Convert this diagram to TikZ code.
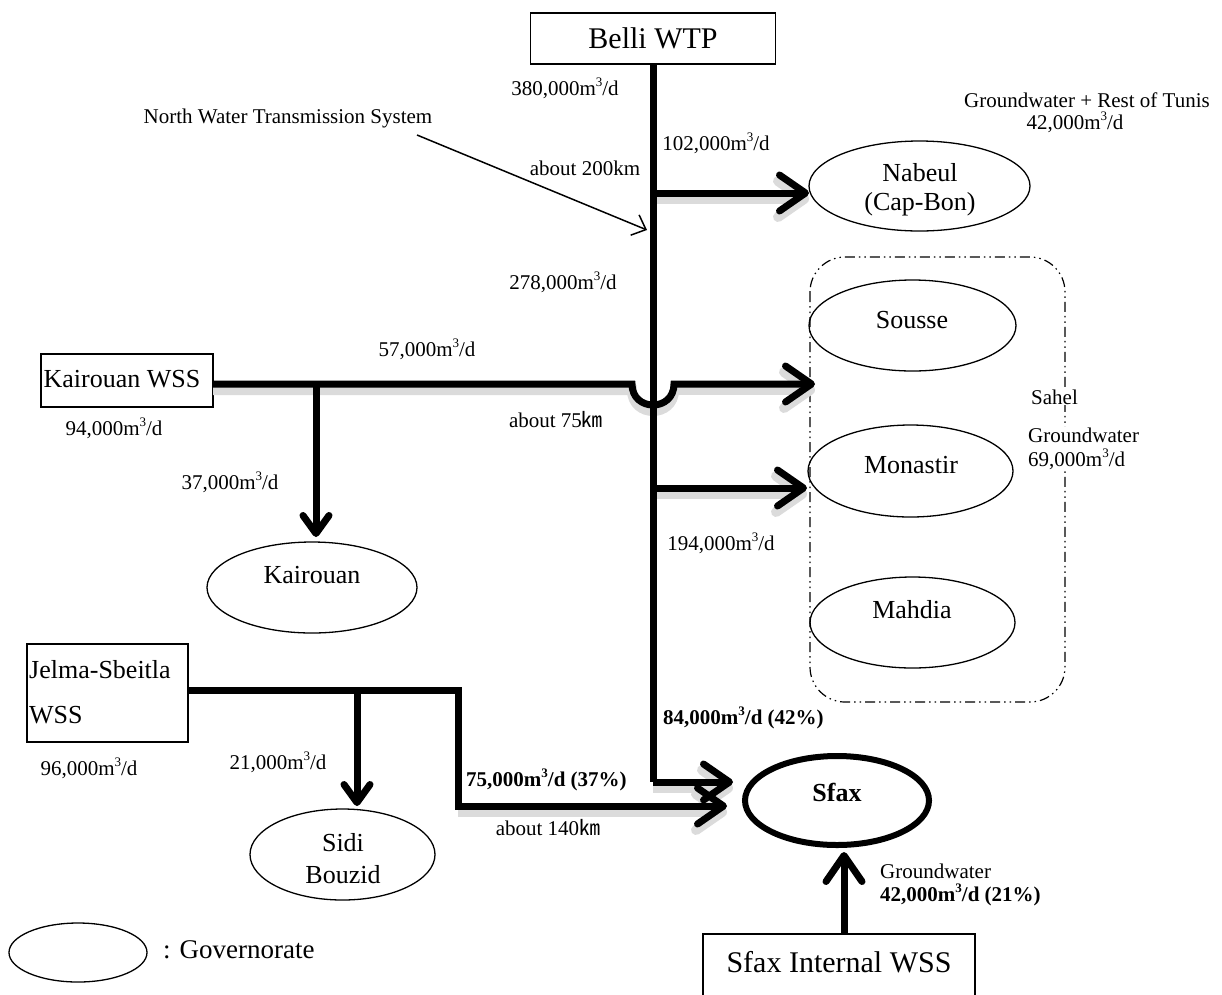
\documentclass[tikz,border=0pt]{standalone}
\usepackage{fontspec}
\setmainfont{Liberation Serif}
\newfontfamily\cjkfont{Noto Sans CJK JP}
\usetikzlibrary{arrows.meta,shapes.geometric}
\newcommand{\mcube}{m\raisebox{0.42em}{\fontsize{13}{13}\selectfont 3}/d}
\newcommand{\kmsym}{{\cjkfont ㎞}}
\newcommand{\fA}{\fontsize{21}{24}\selectfont}
\newcommand{\fB}{\fontsize{26}{29}\selectfont}
\newcommand{\fC}{\fontsize{30}{32}\selectfont}
\tikzset{
  box/.style={draw, line width=1.3pt, inner sep=0pt},
  gov/.style={draw, ellipse, line width=1.3pt, inner sep=0pt},
  lbl/.style={font=\fA, inner sep=0pt},
  pipe/.style={line width=7pt},
  tipbig/.style={-{Straight Barb[length=26pt,width=36pt,round]}},
  tipsmall/.style={-{Straight Barb[length=18pt,width=26pt,round]}},
  shade/.style={line width=10pt, draw=black!14, transform canvas={yshift=-6pt}},
  sahelbox/.style={line width=1.2pt, rounded corners=35pt,
     dash pattern=on 10pt off 4pt on 1.5pt off 4pt on 1.5pt off 4pt}
}
\begin{document}
\begin{tikzpicture}[x=1pt,y=-1pt]
\fill[white] (0,0) rectangle (1222,994);
\useasboundingbox (0,0) rectangle (1222,994);

% boxes
\node[box, minimum width=245pt, minimum height=51pt] (belli) at (653,38.5) {};
\node[font=\fC, inner sep=0pt] (bellit) at (653,38) {Belli WTP};
\node[box, minimum width=172pt, minimum height=53pt] (kws) at (127,380.5) {};
\node[font=\fB, inner sep=0pt] (kwst) at (122,379) {Kairouan WSS};
\node[box, minimum width=161pt, minimum height=98pt] (jws) at (107.5,693) {};
\node[font=\fB, inner sep=0pt, anchor=west] (jwst1) at (29,670) {Jelma-Sbeitla};
\node[font=\fB, inner sep=0pt, anchor=west] (jwst2) at (29,715) {WSS};
\node[box, minimum width=272pt, minimum height=96pt] (siw) at (839,982) {};
\node[font=\fC, inner sep=0pt] (siwt) at (839,962) {Sfax Internal WSS};

% Sahel group
\draw[sahelbox] (810,257) rectangle (1065,702);

% governorates
\node[gov, minimum width=221pt, minimum height=90pt] (nabeul) at (919.5,186) {};
\node[font=\fB, inner sep=0pt] (nabeult1) at (920,173) {Nabeul};
\node[font=\fB, inner sep=0pt] (nabeult2) at (920,204) {(Cap-Bon)};
\node[gov, minimum width=207pt, minimum height=91pt] (sousse) at (912.5,325.5) {};
\node[font=\fB, inner sep=0pt] (sousset) at (912,320) {Sousse};
\node[gov, minimum width=205pt, minimum height=92pt] (monastir) at (910.5,471) {};
\node[font=\fB, inner sep=0pt] (monastirt) at (911,465) {Monastir};
\node[gov, minimum width=205pt, minimum height=91pt] (mahdia) at (912.5,622.5) {};
\node[font=\fB, inner sep=0pt] (mahdiat) at (912,610) {Mahdia};
\node[gov, minimum width=210pt, minimum height=91pt] (kair) at (312,587.5) {};
\node[font=\fB, inner sep=0pt] (kairt) at (312,575) {Kairouan};
\node[gov, minimum width=185pt, minimum height=91pt] (sidi) at (342.5,854.5) {};
\node[font=\fB, inner sep=0pt] (sidit1) at (343,843) {Sidi};
\node[font=\fB, inner sep=0pt] (sidit2) at (343,875) {Bouzid};
\node[gov, line width=6pt, minimum width=184pt, minimum height=89pt] (sfax) at (837,800.5) {};
\node[font=\fB\bfseries, inner sep=0pt] (sfaxt) at (837,792) {Sfax};
\node[gov, minimum width=138pt, minimum height=59pt] (legend) at (78,952.5) {};
\node[font=\fontsize{27}{30}\selectfont, inner sep=0pt, anchor=west] (govl) at (163,950) {: Governorate};

% junction coordinates
\coordinate (top) at (653,64);
\coordinate (jn) at (653,193);
\coordinate (jx) at (653,384);
\coordinate (jm) at (653,488);
\coordinate (corner) at (653,782);
\coordinate (tipn) at (809,193);
\coordinate (kstart) at (213,384);
\coordinate (jl) at (632,384);
\coordinate (jr) at (674,384);
\coordinate (tips) at (815,384);
\coordinate (tipm) at (807,488);
\coordinate (tipf1) at (733,782);
\coordinate (kbr) at (316,384);
\coordinate (kbt) at (316,537);
\coordinate (jstart) at (188,690);
\coordinate (sbr) at (357,690);
\coordinate (sbt) at (357,806);
\coordinate (jc1) at (458,690);
\coordinate (jc2) at (458,806);
\coordinate (tipf2) at (727,806);
\coordinate (siwtop) at (844,934);
\coordinate (tipf3) at (844,852);
\coordinate (nwa) at (417,135);
\coordinate (nwb) at (647,230);

% shadows
\draw[shade, tipbig] (jn) -- (tipn);
\draw[shade] (kstart) -- (jl) .. controls (632,412) and (674,412) .. (jr);
\draw[shade, tipbig] (jr) -- (tips);
\draw[shade, tipbig] (jm) -- (tipm);
\draw[shade, tipbig] (corner) -- (tipf1);
\draw[shade, tipbig] (jc2) -- (tipf2);

% pipes
\draw[pipe] (top) -- (corner);
\draw[pipe, tipbig] (corner) -- (tipf1);
\draw[pipe, tipbig] (jn) -- (tipn);
\draw[pipe, tipbig] (kstart) -- (jl) .. controls (632,412) and (674,412) .. (jr) -- (tips);
\draw[pipe, tipbig] (jm) -- (tipm);
\draw[pipe, tipsmall] (kbr) -- (kbt);
\draw[pipe, tipbig, line join=miter] (jstart) -- (jc1) -- (jc2) -- (tipf2);
\draw[pipe, tipsmall] (sbr) -- (sbt);
\draw[pipe, tipbig] (siwtop) -- (tipf3);

% thin pointer
\draw[line width=1.5pt, -{Straight Barb[length=12pt,width=22pt]}] (nwa) -- (nwb);

% labels
\node[lbl] (l380) at (565,88) {380,000\mcube};
\node[lbl] (nwts) at (288,118) {North Water Transmission System};
\node[lbl] (l200) at (585,168) {about 200km};
\node[lbl] (l102) at (716,143) {102,000\mcube};
\node[lbl] (gwr) at (1087,100) {Groundwater + Rest of Tunis};
\node[lbl] (l42a) at (1075,122) {42,000\mcube};
\node[lbl] (l278) at (563,282) {278,000\mcube};
\node[lbl] (l57) at (427,349) {57,000\mcube};
\node[lbl] (l75) at (556,420) {about 75\kmsym};
\node[lbl] (l94) at (114,428) {94,000\mcube};
\node[lbl] (l37) at (230,482) {37,000\mcube};
\node[lbl] (l194) at (721,543) {194,000\mcube};
\node[lbl, fill=white, anchor=west, inner sep=1pt] (sahel) at (1030,397) {Sahel};
\node[lbl, fill=white, anchor=west, align=left, inner sep=1pt] (gw69) at (1027,449) {Groundwater\\69,000\mcube};
\node[lbl, anchor=west] (l84) at (663,718) {\bfseries 84,000\mcube\ (42\%)};
\node[lbl, anchor=west] (l75b) at (466,780) {\bfseries 75,000\mcube\ (37\%)};
\node[lbl] (l140) at (548,828) {about 140\kmsym};
\node[lbl] (l21) at (278,762) {21,000\mcube};
\node[lbl] (l96) at (89,768) {96,000\mcube};
\node[lbl, anchor=west] (gws) at (880,871) {Groundwater};
\node[lbl, anchor=west] (l42b) at (880,895) {\bfseries 42,000\mcube\ (21\%)};
\end{tikzpicture}
\end{document}
